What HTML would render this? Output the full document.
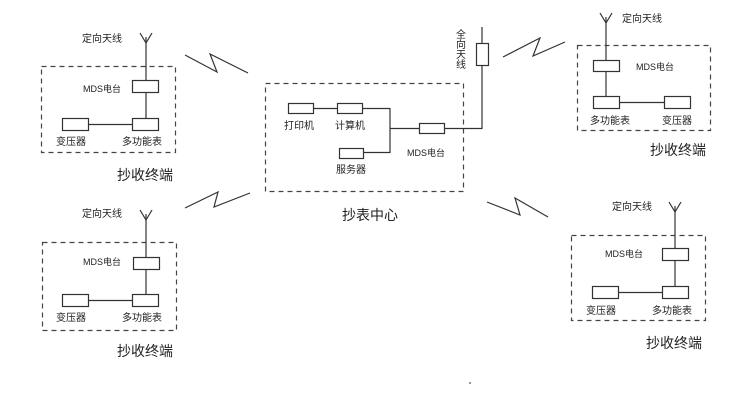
<!DOCTYPE html>
<html><head><meta charset="utf-8"><style>
html,body{margin:0;padding:0;background:#fff;}
svg{display:block;}
text{font-family:"Liberation Sans","Noto Sans CJK SC",sans-serif;fill:#222;}
.s{font-size:10px;}
.m{font-size:9px;}
.b{font-size:14px;}
</style></head><body>
<svg width="744" height="406" viewBox="0 0 744 406" xmlns="http://www.w3.org/2000/svg">
<g stroke="#333" fill="none" stroke-width="1.2">
<!-- TL terminal -->
<rect x="41.5" y="66.5" width="134" height="86" stroke-dasharray="5,4" stroke="#444"/>
<line x1="146" y1="37" x2="146" y2="80"/><polyline points="140,33 146,43 152,33"/>
<rect x="132.5" y="80.5" width="26" height="12" fill="#fff"/>
<line x1="146" y1="92" x2="146" y2="118"/>
<rect x="132.5" y="118.5" width="26" height="12" fill="#fff"/>
<rect x="62.5" y="118.5" width="26" height="12" fill="#fff"/>
<line x1="88" y1="124.5" x2="132" y2="124.5"/>
<polyline points="185,55 217,72 210,54 248,73"/>
<!-- BL terminal -->
<rect x="42.5" y="242.5" width="134" height="88" stroke-dasharray="5,4" stroke="#444"/>
<line x1="146" y1="214" x2="146" y2="257"/><polyline points="140,210 146,220 152,210"/>
<rect x="133.5" y="257.5" width="26" height="12" fill="#fff"/>
<line x1="146" y1="269" x2="146" y2="294"/>
<rect x="132.5" y="294.5" width="26" height="12" fill="#fff"/>
<rect x="62.5" y="294.5" width="26" height="12" fill="#fff"/>
<line x1="88" y1="300.5" x2="132" y2="300.5"/>
<polyline points="185,208 218,192 214,207 250,193"/>
<!-- Center -->
<rect x="265.5" y="83.5" width="198" height="108" stroke-dasharray="5,4" stroke="#444"/>
<rect x="288.5" y="103.5" width="25" height="10"/>
<rect x="337.5" y="103.5" width="25" height="10"/>
<rect x="339.5" y="148.5" width="24" height="10"/>
<line x1="313" y1="108.5" x2="337" y2="108.5"/>
<line x1="362" y1="108.5" x2="390" y2="108.5"/>
<line x1="363" y1="152.5" x2="390" y2="152.5"/>
<line x1="390" y1="108" x2="390" y2="153"/>
<line x1="390" y1="128.5" x2="419" y2="128.5"/>
<rect x="419.5" y="123.5" width="25" height="10"/>
<line x1="444" y1="128.5" x2="482" y2="128.5"/>
<line x1="482" y1="27" x2="482" y2="129"/>
<rect x="476.5" y="43.5" width="12" height="22" fill="#fff"/>
<polyline points="503,57 540,38 533,56 565,42"/>
<polyline points="487,202 520,215 515,198 548,217"/>
<!-- TR terminal -->
<rect x="577.5" y="45.5" width="133" height="85" stroke-dasharray="5,4" stroke="#444"/>
<line x1="606" y1="17" x2="606" y2="60"/><polyline points="600,13 606,23 612,13"/>
<rect x="593.5" y="60.5" width="26" height="11" fill="#fff"/>
<line x1="606" y1="71" x2="606" y2="96"/>
<rect x="593.5" y="96.5" width="26" height="12" fill="#fff"/>
<rect x="664.5" y="96.5" width="26" height="12" fill="#fff"/>
<line x1="619" y1="102.5" x2="664" y2="102.5"/>
<!-- BR terminal -->
<rect x="571.5" y="235.5" width="134" height="85" stroke-dasharray="5,4" stroke="#444"/>
<line x1="675" y1="206" x2="675" y2="248"/><polyline points="669,202 675,212 681,202"/>
<rect x="662.5" y="248.5" width="26" height="12" fill="#fff"/>
<line x1="675" y1="260" x2="675" y2="286"/>
<rect x="662.5" y="286.5" width="26" height="12" fill="#fff"/>
<rect x="592.5" y="286.5" width="26" height="12" fill="#fff"/>
<line x1="618" y1="292.5" x2="662" y2="292.5"/>
</g>
<rect x="469" y="382" width="2" height="2" fill="#999"/>
<!-- TL labels -->
<text class="s" x="82" y="42">定向天线</text>
<text class="m" x="83" y="92">MDS电台</text>
<text class="s" x="56" y="145">变压器</text>
<text class="s" x="122" y="145">多功能表</text>
<text class="b" x="117" y="180">抄收终端</text>
<!-- BL labels -->
<text class="s" x="82" y="217">定向天线</text>
<text class="m" x="83" y="265">MDS电台</text>
<text class="s" x="56" y="321">变压器</text>
<text class="s" x="122" y="321">多功能表</text>
<text class="b" x="117" y="356">抄收终端</text>
<!-- Center labels -->
<text class="s" x="284" y="129">打印机</text>
<text class="s" x="335" y="129">计算机</text>
<text class="s" x="336" y="173">服务器</text>
<text class="m" x="407" y="156">MDS电台</text>
<text class="b" x="342" y="220">抄表中心</text>
<text class="s" x="456" y="38">全</text>
<text class="s" x="456" y="48">向</text>
<text class="s" x="456" y="58">天</text>
<text class="s" x="456" y="68">线</text>
<!-- TR labels -->
<text class="s" x="622" y="22">定向天线</text>
<text class="m" x="636" y="70">MDS电台</text>
<text class="s" x="590" y="124">多功能表</text>
<text class="s" x="662" y="124">变压器</text>
<text class="b" x="650" y="155">抄收终端</text>
<!-- BR labels -->
<text class="s" x="612" y="210">定向天线</text>
<text class="m" x="605" y="257">MDS电台</text>
<text class="s" x="586" y="314">变压器</text>
<text class="s" x="652" y="314">多功能表</text>
<text class="b" x="646" y="348">抄收终端</text>
</svg>
</body></html>
